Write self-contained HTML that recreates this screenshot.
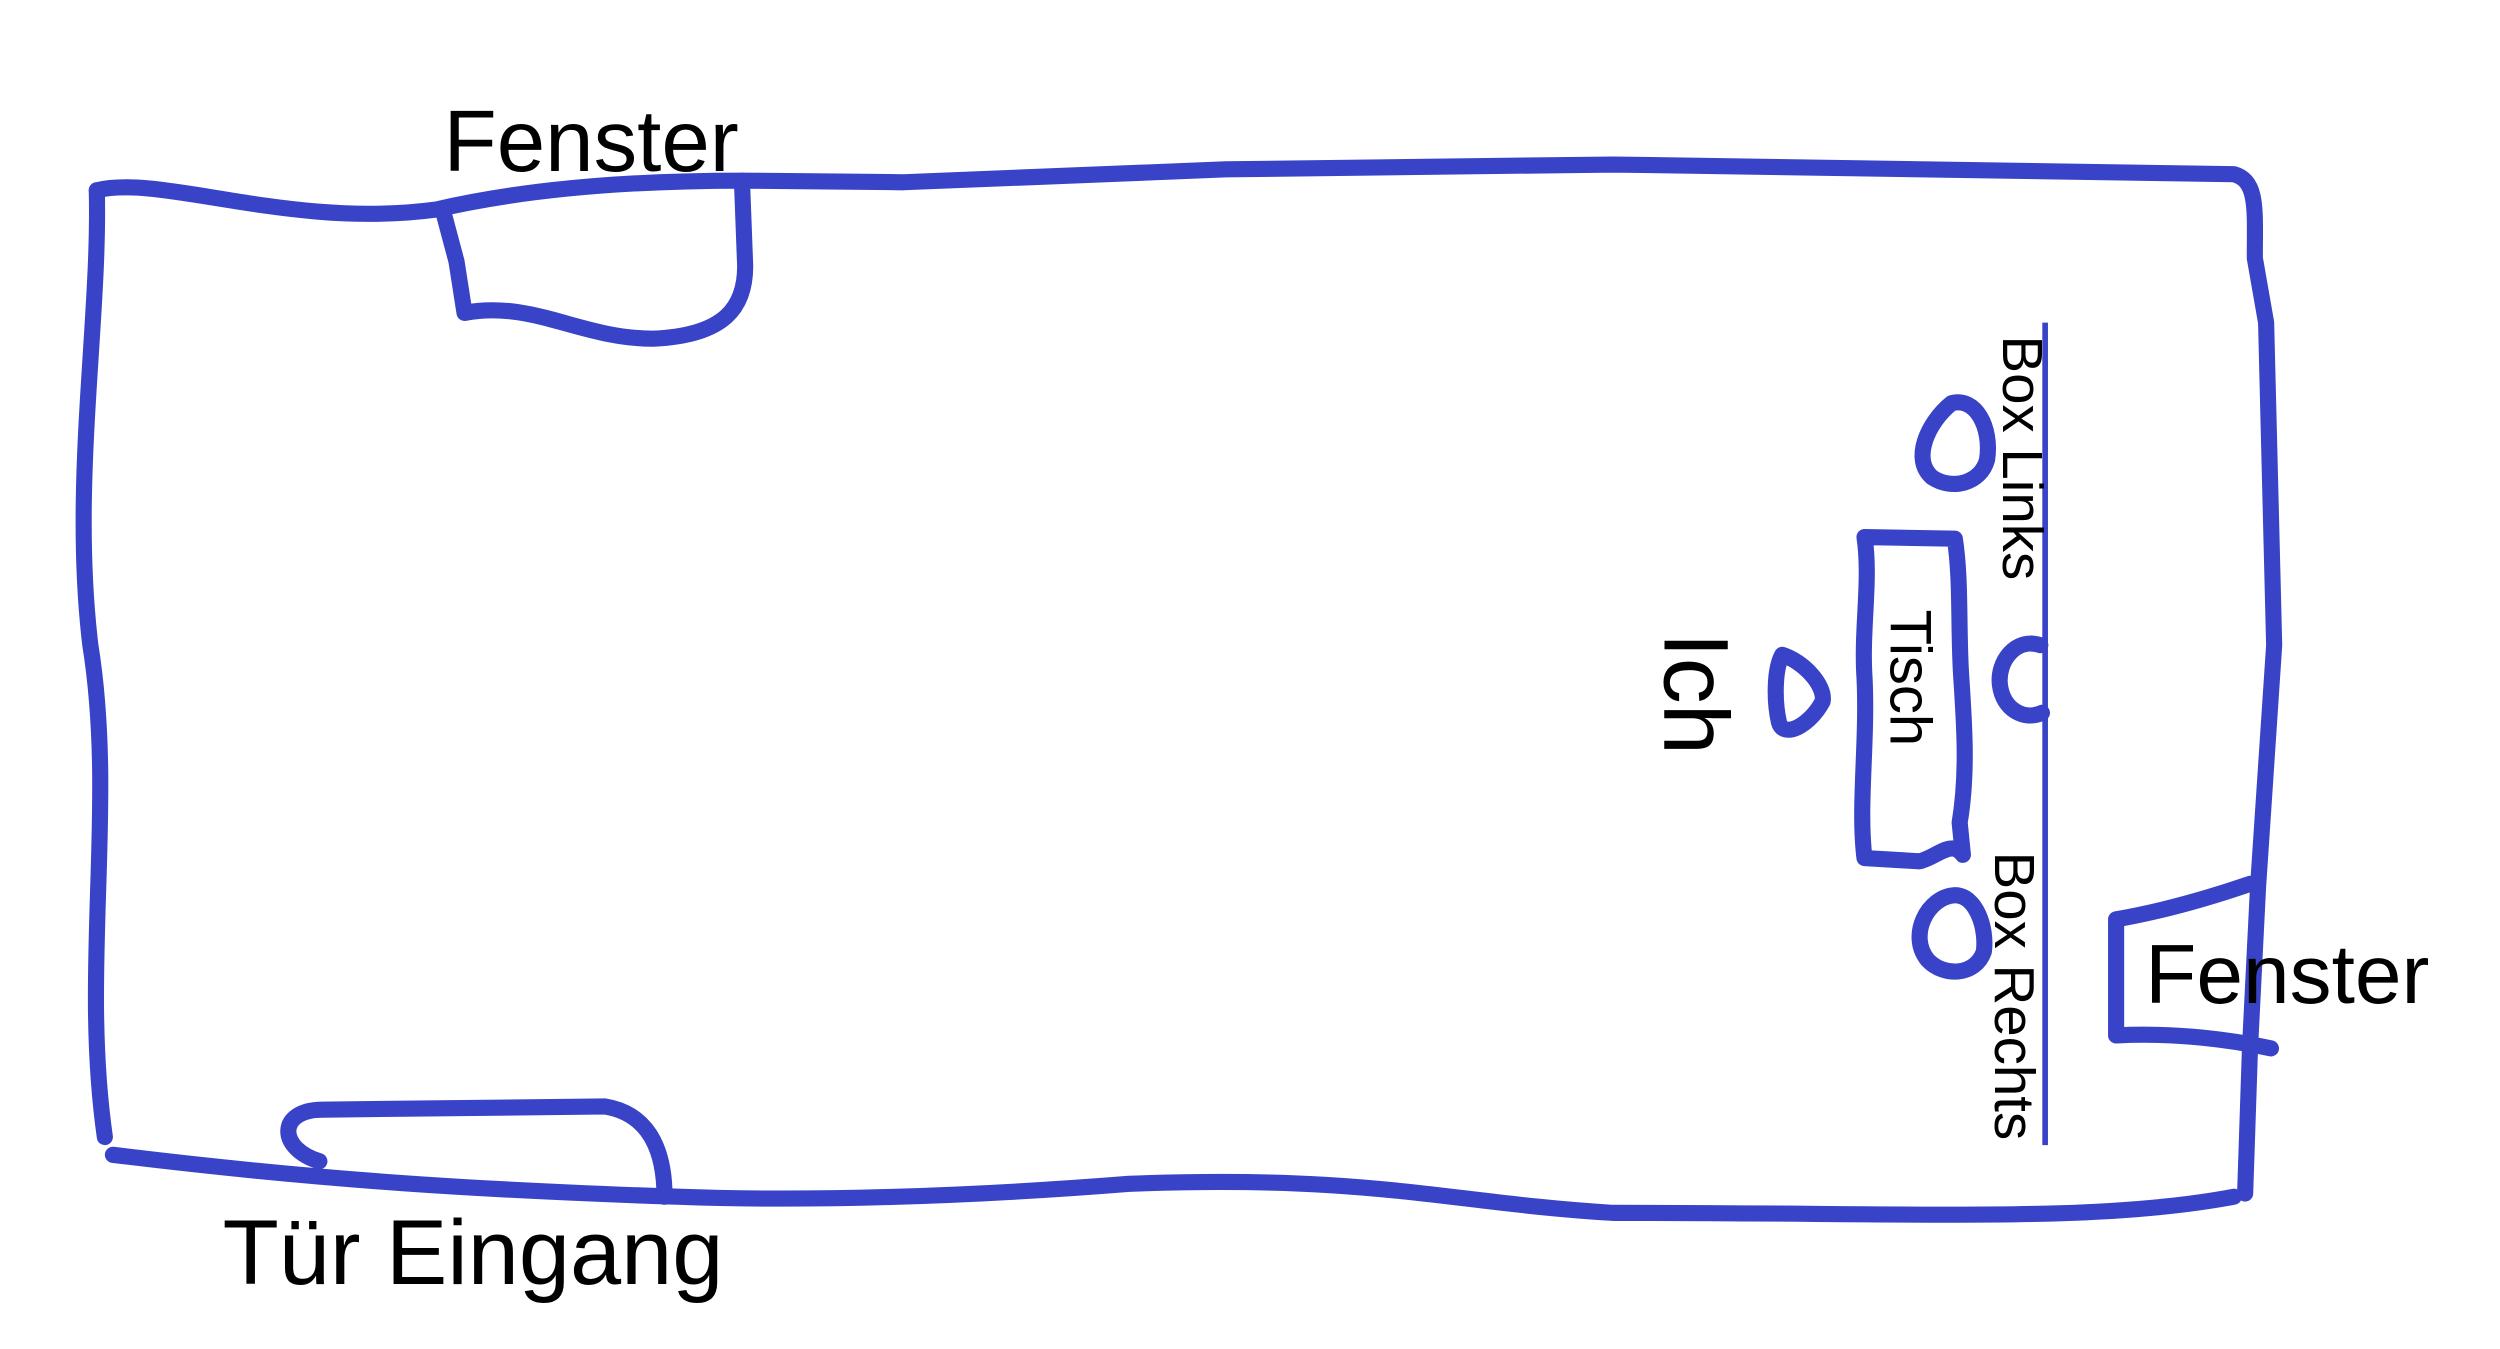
<!DOCTYPE html>
<html><head><meta charset="utf-8"><style>
html,body{margin:0;padding:0;background:#fff;}
svg{display:block;}
text{font-family:"Liberation Sans",sans-serif;fill:#000;}
</style></head><body>
<svg width="2500" height="1349" viewBox="0 0 1550 836.4" xmlns="http://www.w3.org/2000/svg">
<g fill="none" stroke="#3843c8" stroke-width="10" stroke-linecap="round" stroke-linejoin="round">
<path d="M60,118 C100,108 180,142 270,130 C330,116 400,112 460,112 L560,113 L760,105 L1000,102 L1385,108 C1400,112 1398,130 1398,160 L1405,200 L1410,400 L1400,550 L1395,650 L1392,740"/>
<path d="M1385,742 C1300,758 1200,752 1000,752 C900,746 850,728 700,734 C600,742 500,745 420,742 C300,738 200,732 70,716"/>
<path d="M65,705 C50,600 72,500 56,400 C44,300 62,200 60,118"/>
<path d="M275,132 L283,162 L288,194 C330,186 360,210 405,210 C450,208 462,190 462,165 L460,112"/>
<path d="M198,720 C172,712 172,688 200,688 L375,686 C400,690 412,710 412,742"/>
<path d="M1395,548 C1360,560 1335,566 1312,570 L1312,642 C1350,640 1385,645 1408,650"/>
<path d="M1210,250 C1225,246 1235,265 1232,285 C1228,300 1210,304 1198,296 C1185,285 1195,262 1210,250 Z"/>
<path d="M1265,400 C1250,395 1238,410 1240,425 C1242,440 1255,447 1266,442"/>
<path d="M1105,406 C1118,410 1132,425 1130,435 C1122,450 1106,458 1103,448 C1100,435 1100,415 1105,406 Z"/>
<path d="M1156,333 L1212,334 C1216,360 1214,390 1216,420 C1218,450 1220,480 1215,510 L1217,530 C1210,520 1200,532 1190,534 L1156,532 C1152,500 1158,460 1156,420 C1154,390 1160,360 1156,333 Z"/>
<path d="M1212,555 C1225,555 1232,575 1230,590 C1225,605 1205,606 1195,595 C1183,580 1195,556 1212,555 Z"/>
</g>
<line x1="1268" y1="200" x2="1268" y2="710" stroke="#3843c8" stroke-width="3.5"/>
<text x="275" y="106" font-size="54">Fenster</text>
<text x="138" y="796" font-size="57">Tür Eingang</text>
<text x="1330" y="622" font-size="52">Fenster</text>
<text transform="translate(1242,208) rotate(90)" font-size="35">Box Links</text>
<text transform="translate(1172,378) rotate(90)" font-size="36">Tisch</text>
<text transform="translate(1237,528) rotate(90)" font-size="35">Box Rechts</text>
<text transform="translate(1032,392) rotate(90)" font-size="57">Ich</text>
</svg>
</body></html>
